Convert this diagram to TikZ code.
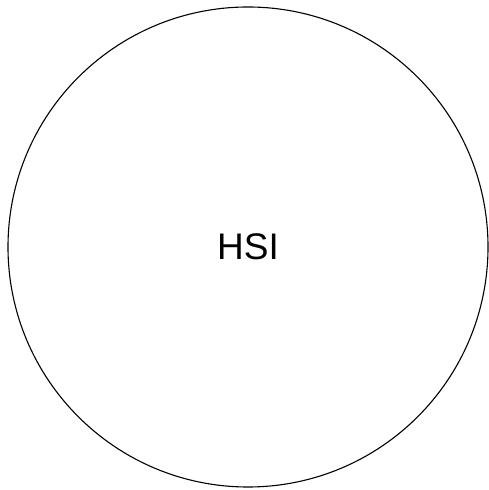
\documentclass[tikz,border=0pt]{standalone}
\usepackage{fontspec}
\setmainfont{Liberation Sans}
\begin{document}
\begin{tikzpicture}[x=1bp, y=1bp, ring/.style={circle, draw=black, line width=1.1bp, minimum size=480bp, inner sep=0pt, font=\fontsize{37bp}{41bp}\selectfont}]
		\useasboundingbox (0, 0) rectangle (489, 490);
		\node[ring] (hsi) at (248, 243) {HSI};
	\end{tikzpicture}
\end{document}
